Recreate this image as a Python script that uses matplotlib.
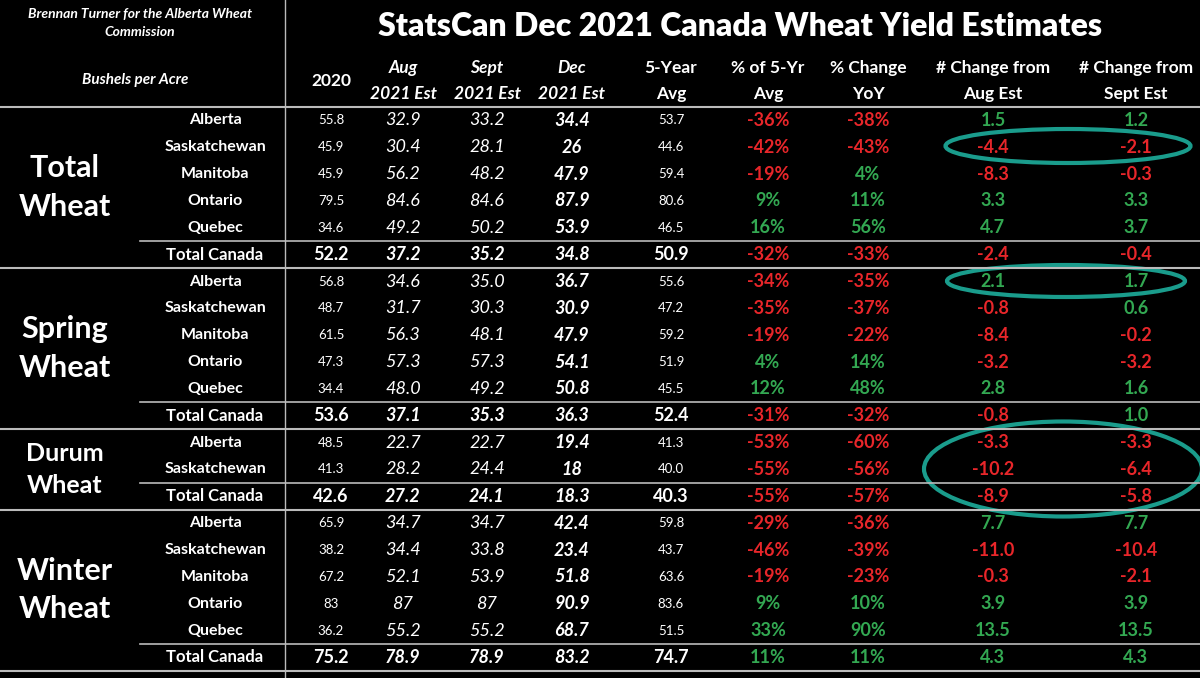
import matplotlib
matplotlib.use("Agg")
import matplotlib.pyplot as plt
from matplotlib.patches import Ellipse

groups = ["Total\nWheat", "Spring\nWheat", "Durum\nWheat", "Winter\nWheat"]
regions = [
    ["Alberta", "Saskatchewan", "Manitoba", "Ontario", "Quebec", "Total Canada"],
    ["Alberta", "Saskatchewan", "Manitoba", "Ontario", "Quebec", "Total Canada"],
    ["Alberta", "Saskatchewan", "Total Canada"],
    ["Alberta", "Saskatchewan", "Manitoba", "Ontario", "Quebec", "Total Canada"],
]
y2020 = ["55.8","45.9","45.9","79.5","34.6","52.2","56.8","48.7","61.5","47.3","34.4","53.6",
         "48.5","41.3","42.6","65.9","38.2","67.2","83","36.2","75.2"]
aug = ["32.9","30.4","56.2","84.6","49.2","37.2","34.6","31.7","56.3","57.3","48.0","37.1",
       "22.7","28.2","27.2","34.7","34.4","52.1","87","55.2","78.9"]
sept = ["33.2","28.1","48.2","84.6","50.2","35.2","35.0","30.3","48.1","57.3","49.2","35.3",
        "22.7","24.4","24.1","34.7","33.8","53.9","87","55.2","78.9"]
dec = ["34.4","26","47.9","87.9","53.9","34.8","36.7","30.9","47.9","54.1","50.8","36.3",
       "19.4","18","18.3","42.4","23.4","51.8","90.9","68.7","83.2"]
avg5 = ["53.7","44.6","59.4","80.6","46.5","50.9","55.6","47.2","59.2","51.9","45.5","52.4",
        "41.3","40.0","40.3","59.8","43.7","63.6","83.6","51.5","74.7"]
pct5 = ["-36%","-42%","-19%","9%","16%","-32%","-34%","-35%","-19%","4%","12%","-31%",
        "-53%","-55%","-55%","-29%","-46%","-19%","9%","33%","11%"]
yoy = ["-38%","-43%","4%","11%","56%","-33%","-35%","-37%","-22%","14%","48%","-32%",
       "-60%","-56%","-57%","-36%","-39%","-23%","10%","90%","11%"]
chg_aug = ["1.5","-4.4","-8.3","3.3","4.7","-2.4","2.1","-0.8","-8.4","-3.2","2.8","-0.8",
           "-3.3","-10.2","-8.9","7.7","-11.0","-0.3","3.9","13.5","4.3"]
chg_sept = ["1.2","-2.1","-0.3","3.3","3.7","-0.4","1.7","0.6","-0.2","-3.2","1.6","1.0",
            "-3.3","-6.4","-5.8","7.7","-10.4","-2.1","3.9","13.5","4.3"]
headers1 = ["2020", "Aug", "Sept", "Dec", "5-Year", "% of 5-Yr", "% Change", "# Change from", "# Change from"]
headers2 = ["", "2021 Est", "2021 Est", "2021 Est", "Avg", "Avg", "YoY", "Aug Est", "Sept Est"]

RED = "#e8262a"; GREEN = "#33a852"; TEAL = "#1a9c8c"
FONT = "Lato"
plt.rcParams['font.family'] = [FONT, 'DejaVu Sans']

fig = plt.figure(figsize=(12, 6.78), dpi=100, facecolor="black")
ax = fig.add_axes([0, 0, 1, 1])
ax.set_facecolor("black")
ax.set_xlim(0, 1200); ax.set_ylim(678, 0); ax.axis("off")

colx = [331, 403, 487, 572, 671, 768, 868, 993, 1136]
ax.text(740, 27, "StatsCan Dec 2021 Canada Wheat Yield Estimates", color="white",
        fontsize=23, fontweight="heavy", ha="center", va="center")
ax.text(140, 23, "Brennan Turner for the Alberta Wheat\nCommission", color="white", fontsize=10,
        fontweight="bold", style="italic", ha="center", va="center", linespacing=1.5)
ax.text(135, 80, "Bushels per Acre", color="white", fontsize=11, fontweight="bold",
        style="italic", ha="center", va="center")
for i, (h1, h2) in enumerate(zip(headers1, headers2)):
    it = "italic" if 1 <= i <= 3 else "normal"
    if h2 == "":
        ax.text(colx[i], 81, h1, color="white", fontsize=12.5, fontweight="bold", ha="center", va="center")
    else:
        ax.text(colx[i], 68, h1, color="white", fontsize=12.5, fontweight="bold", style=it, ha="center", va="center")
        ax.text(colx[i], 94, h2, color="white", fontsize=12.5, fontweight="bold", style=it, ha="center", va="center")

lc = "#bbbbbb"
ax.plot([285, 285], [0, 678], color=lc, lw=1)
ax.plot([0, 1200], [107, 107], color=lc, lw=1.5)

rowh = 26.85
y = 107
k = 0
for g, regs in zip(groups, regions):
    ytop = y
    for j, r in enumerate(regs):
        yc = y + rowh / 2
        total = (r == "Total Canada")
        if total:
            ax.plot([140, 1200], [y, y], color=lc, lw=1.2)
        ax.text(215, yc, r, color="white", fontsize=12 if total else 11.5, fontweight="bold", ha="center", va="center")
        ax.text(colx[0], yc, y2020[k], color="white", fontsize=13 if total else 9.5,
                fontweight="bold" if total else "normal", ha="center", va="center")
        ax.text(colx[1], yc, aug[k], color="white", fontsize=13, style="italic",
                fontweight="bold" if total else "normal", ha="center", va="center")
        ax.text(colx[2], yc, sept[k], color="white", fontsize=13, style="italic",
                fontweight="bold" if total else "normal", ha="center", va="center")
        ax.text(colx[3], yc, dec[k], color="white", fontsize=13, style="italic",
                fontweight="bold", ha="center", va="center")
        ax.text(colx[4], yc, avg5[k], color="white", fontsize=13 if total else 9.5,
                fontweight="bold" if total else "normal", ha="center", va="center")
        for ci, vals in zip([5, 6, 7, 8], [pct5, yoy, chg_aug, chg_sept]):
            v = vals[k]
            col = RED if v.startswith("-") else GREEN
            ax.text(colx[ci], yc, v, color=col, fontsize=13, fontweight="bold", ha="center", va="center")
        y += rowh
        k += 1
    ax.plot([0, 1200], [y, y], color=lc, lw=1.5)
    ax.text(65, (ytop + y) / 2, g, color="white", fontsize=22 if len(regs) > 3 else 18,
            fontweight="bold", ha="center", va="center", linespacing=1.45)

for (cx, cy, w, h) in [(1068, 146, 245, 34), (1066, 281, 238, 32), (1063, 469, 278, 95)]:
    ax.add_patch(Ellipse((cx, cy), w, h, fill=False, edgecolor=TEAL, lw=3))

fig.savefig("out.png", dpi=100, facecolor="black")
